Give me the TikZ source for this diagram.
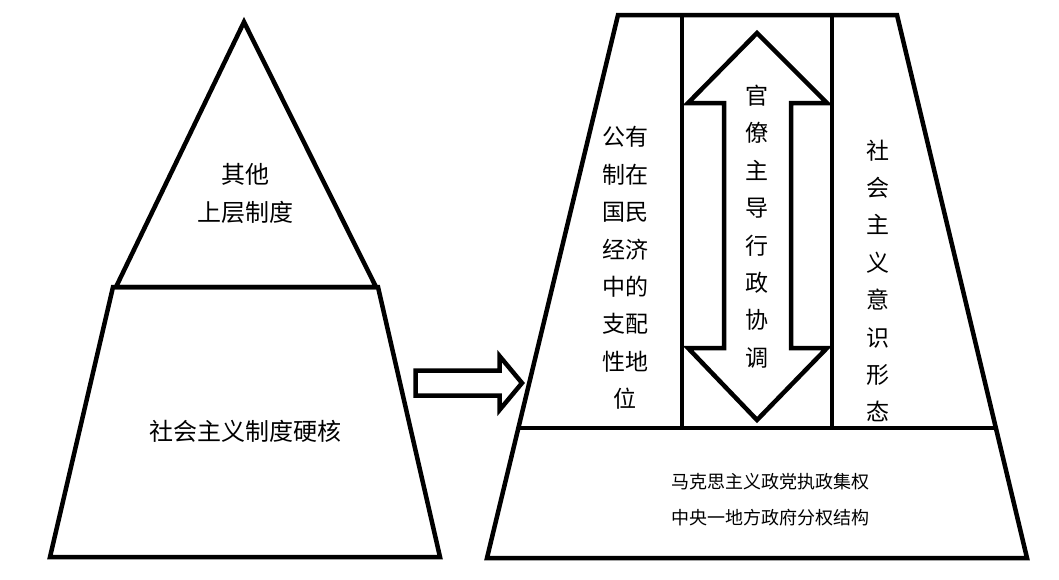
\documentclass[tikz,border=0pt]{standalone}
\usepackage{fontspec}
\newfontfamily\cjk{Noto Sans CJK SC}
\begin{document}
\begin{tikzpicture}[x=1pt,y=-1pt,
  outline/.style={draw=black, line width=4.5pt, line join=miter, miter limit=20},
  divider/.style={draw=black, line width=4.5pt},
  bigtext/.style={font=\cjk\fontsize{24}{38}\selectfont, inner sep=0pt, align=center},
  coltext/.style={font=\cjk\fontsize{23}{37.4}\selectfont, inner sep=0pt, align=center},
  smalltext/.style={font=\cjk\fontsize{18}{36}\selectfont, inner sep=0pt, align=center}]
\useasboundingbox (0,0) rectangle (1059,579);
\fill[white] (0,0) rectangle (1059,579);

% left pyramid
\draw[outline] (244,22) -- (376,287) -- (116,287) -- cycle;
\draw[outline] (113,287) -- (378,287) -- (440,557) -- (50,557) -- cycle;
\node[bigtext] (other) at (245,193) {其他\\上层制度};
\node[bigtext] (core) at (245,431) {社会主义制度硬核};

% hollow arrow
\draw[outline] (415.5,370.5) -- (499.5,370.5) -- (499.5,356) -- (522,383)
  -- (499.5,410) -- (499.5,395.5) -- (415.5,395.5) -- cycle;

% right trapezoid
\draw[outline] (618,15) -- (897,15) -- (1027,558) -- (487,558) -- cycle;
\coordinate (hl) at (520,428);
\coordinate (hr) at (995,428);
\draw[divider] (hl) -- (hr);
\coordinate (v1t) at (682,15);
\coordinate (v1b) at (682,428);
\coordinate (v2t) at (832,15);
\coordinate (v2b) at (832,428);
\draw[divider] (v1t) -- (v1b);
\draw[divider] (v2t) -- (v2b);

% double arrow
\draw[outline] (757,33) -- (827,103) -- (791,103) -- (791,348) -- (827,348)
  -- (757,420) -- (688,348) -- (724,348) -- (724,103) -- (688,103) -- cycle;

\node[coltext] (own) at (625,268) {公有\\制在\\国民\\经济\\中的\\支配\\性地\\位};
\node[coltext] (bur) at (757,226.5) {官\\僚\\主\\导\\行\\政\\协\\调};
\node[coltext] (ideo) at (878,281) {社\\会\\主\\义\\意\\识\\形\\态};
\node[smalltext] (party) at (770,500) {马克思主义政党执政集权\\中央一地方政府分权结构};
\end{tikzpicture}
\end{document}
